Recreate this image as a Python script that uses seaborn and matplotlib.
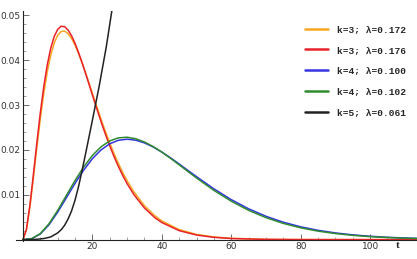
import matplotlib
matplotlib.use('Agg')
import matplotlib.pyplot as plt
import seaborn as sns
from matplotlib.ticker import MultipleLocator

# values
t_k3 = list(range(0, 31)) + [32, 35, 38, 40, 45, 50, 55, 60, 70, 80, 113.5]
f_k3_172 = [0, 0.00214, 0.00721, 0.01367, 0.02046, 0.02692, 0.03263, 0.03740,
            0.04113, 0.04383, 0.04557, 0.04641, 0.04651, 0.04595, 0.04487,
            0.04338, 0.04155, 0.03950, 0.03728, 0.03498, 0.03263, 0.03029,
            0.02799, 0.02576, 0.02361, 0.02158, 0.01964, 0.01784, 0.01616,
            0.01459, 0.01315,
            0.01061, 0.00757, 0.00533, 0.00419, 0.00224, 0.00117, 0.00060,
            0.00030, 0.00007, 0.00002, 0]
f_k3_176 = [0, 0.00229, 0.00767, 0.01447, 0.02157, 0.02827, 0.03413, 0.03896,
            0.04267, 0.04529, 0.04689, 0.04758, 0.04750, 0.04675, 0.04547,
            0.04377, 0.04176, 0.03954, 0.03717, 0.03473, 0.03227, 0.02984,
            0.02747, 0.02517, 0.02299, 0.02092, 0.01898, 0.01716, 0.01548,
            0.01392, 0.01249,
            0.01000, 0.00705, 0.00490, 0.00382, 0.00201, 0.00103, 0.00052,
            0.00025, 0.00006, 0.00001, 0]

t_k4 = [0, 2.5, 5, 7.5, 10, 12.5, 15, 17.5, 20, 22.5, 25, 27.5, 30, 32.5, 35,
        37.5, 40, 42.5, 45, 47.5, 50, 55, 60, 65, 70, 75, 80, 85, 90, 95, 100,
        105, 110, 113.5]
f_k4_100 = [0, 0.00020, 0.00126, 0.00332, 0.00613, 0.00933, 0.01255, 0.01552,
            0.01805, 0.02001, 0.02138, 0.02216, 0.02240, 0.02218, 0.02158,
            0.02067, 0.01954, 0.01825, 0.01687, 0.01545, 0.01404, 0.01133,
            0.00892, 0.00688, 0.00521, 0.00389, 0.00286, 0.00208, 0.00150,
            0.00107, 0.00076, 0.00053, 0.00037, 0.00029]
f_k4_102 = [0, 0.00022, 0.00135, 0.00354, 0.00651, 0.00985, 0.01318, 0.01622,
            0.01877, 0.02071, 0.02201, 0.02270, 0.02284, 0.02250, 0.02178,
            0.02076, 0.01952, 0.01814, 0.01669, 0.01521, 0.01375, 0.01099,
            0.00857, 0.00654, 0.00491, 0.00362, 0.00264, 0.00190, 0.00136,
            0.00096, 0.00067, 0.00047, 0.00032, 0.00025]

t_k5 = [0, 2, 4, 6, 8, 10, 11, 12, 13, 14, 15, 16, 17, 18, 19, 20, 22, 24, 25.6]
f_k5_061 = [0, 0.00002, 0.00008, 0.00025, 0.0006, 0.0015, 0.0022, 0.0032,
            0.0046, 0.0064, 0.0088, 0.0118, 0.0153, 0.0190, 0.0228, 0.0266,
            0.0344, 0.0430, 0.0510]

series = [
    (t_k3, f_k3_172, '#f6a623', 'k=3; λ=0.172'),
    (t_k3, f_k3_176, '#e8222a', 'k=3; λ=0.176'),
    (t_k4, f_k4_100, '#3434e0', 'k=4; λ=0.100'),
    (t_k4, f_k4_102, '#2e8b2e', 'k=4; λ=0.102'),
    (t_k5, f_k5_061, '#222222', 'k=5; λ=0.061'),
]

sns.set_style('ticks')
fig = plt.figure(figsize=(4.17, 2.59), dpi=100)
ax = fig.add_axes([16 / 417, 18 / 259, 401 / 417, 230.5 / 259])

for t, f, c, lab in series:
    sns.lineplot(x=t, y=f, color=c, label=lab, linewidth=1.1, ax=ax)

ax.set_xlim(-2, 113.5)
ax.set_ylim(-0.0003, 0.0511)
ax.spines['left'].set_position(('data', 0))
ax.spines['bottom'].set_position(('data', 0))
ax.spines['top'].set_visible(False)
ax.spines['right'].set_visible(False)
for s in ['left', 'bottom']:
    ax.spines[s].set_linewidth(0.8)
    ax.spines[s].set_color('#222222')

ax.set_xticks([20, 40, 60, 80, 100])
ax.set_yticks([0.01, 0.02, 0.03, 0.04, 0.05])
ax.set_yticklabels(['0.01', '0.02', '0.03', '0.04', '0.05'])
ax.xaxis.set_minor_locator(MultipleLocator(5))
ax.yaxis.set_minor_locator(MultipleLocator(0.002))
ax.tick_params(which='major', direction='in', length=4, width=0.6,
               labelsize=6.5, labelcolor='#333333', color='#555555', pad=2)
ax.tick_params(which='minor', direction='in', length=2, width=0.5,
               color='#777777')

ax.text(108, -0.0014, 't', fontsize=8, fontweight='bold',
        family='Liberation Serif', ha='center', va='center')

leg = ax.legend(loc='upper left', bbox_to_anchor=(305 / 417, 1 - 25 / 259),
                bbox_transform=fig.transFigure, frameon=False,
                borderpad=0, borderaxespad=0,
                handlelength=2.4, handletextpad=0.95, labelspacing=1.25,
                prop={'family': 'Liberation Mono', 'weight': 'bold',
                      'size': 6.8})
for line in leg.get_lines():
    line.set_linewidth(1.8)

fig.savefig('out.png', dpi=100)
